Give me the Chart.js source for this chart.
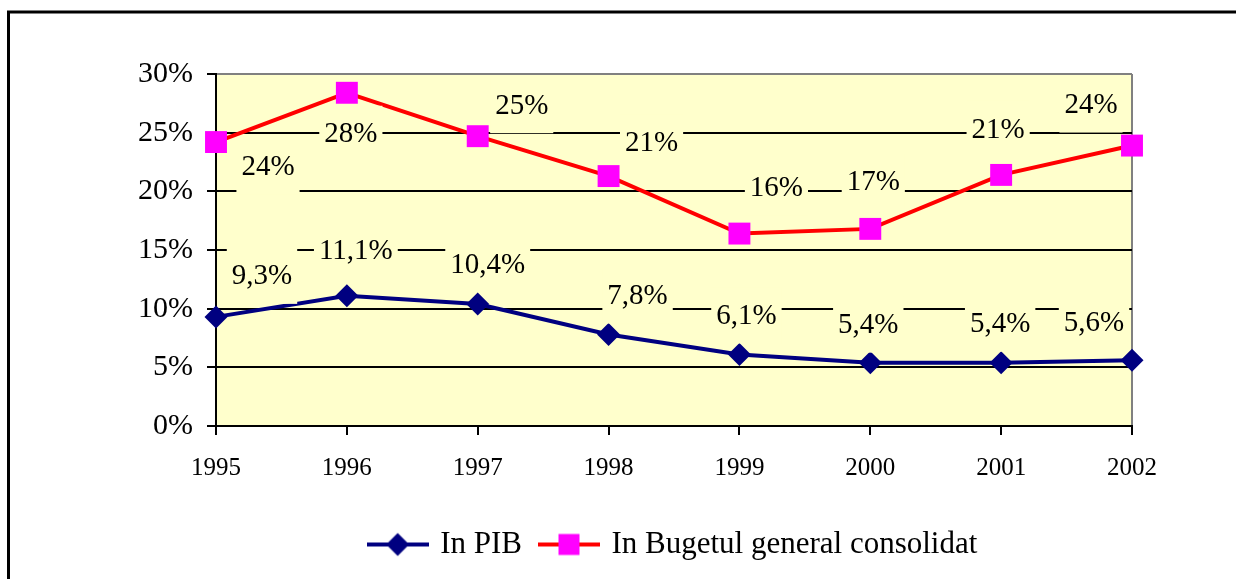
<!DOCTYPE html>
<html>
<head>
<meta charset="utf-8">
<script src="https://cdn.jsdelivr.net/npm/chart.js@4/dist/chart.umd.min.js"></script>
<style>
html,body{margin:0;padding:0;background:#fff;}
#wrap{width:1236px;height:579px;position:relative;}
</style>
</head>
<body>
<div id="wrap"><canvas id="c" width="1236" height="579"></canvas></div>
<script>
// ---- data ----
const years = ['1995', '1996', '1997', '1998', '1999', '2000', '2001', '2002'];
const pibValues = [9.3, 11.1, 10.4, 7.8, 6.1, 5.4, 5.4, 5.6];
const bugetValues = [24.2, 28.4, 24.7, 21.3, 16.4, 16.8, 21.4, 23.9];
const yTickValues = [0, 5, 10, 15, 20, 25, 30];
const seriesNames = ['In PIB', 'In Bugetul general consolidat'];

// ---- label placement (pixel offsets from each point) ----
const pibLabelOffsets = [[46,-41],[9,-45],[10,-40],[29,-39],[7,-39],[-2,-38],[-1,-39],[-38,-38]];
const bugetLabelOffsets = [[52,24],[4,41],[44,-31],[43,-34],[37,-46],[3,-47],[-3,-46],[-41,-41]];

const SERIF = "'Liberation Serif', 'Times New Roman', serif";
const PLOT_BG = '#FFFFCC';
const BLUE = '#000080';
const RED = '#FF0000';
const MAGENTA = '#FF00FF';

function fmtPib(v){ return v.toFixed(1).replace('.', ',') + '%'; }
function fmtBuget(v){ return Math.round(v) + '%'; }

function legendIcon(lineColor, markerColor, shape){
  const c = document.createElement('canvas');
  c.width = 62; c.height = 26;
  const g = c.getContext('2d');
  g.strokeStyle = lineColor; g.lineWidth = 4;
  g.beginPath(); g.moveTo(0, 13); g.lineTo(62, 13); g.stroke();
  g.fillStyle = markerColor;
  g.beginPath();
  if (shape === 'diamond'){
    g.moveTo(31 - 11.5, 13); g.lineTo(31, 1.5); g.lineTo(31 + 11.5, 13); g.lineTo(31, 24.5); g.closePath();
  } else {
    g.rect(31 - 10.5, 2.5, 21, 21);
  }
  g.fill();
  return c;
}
const icons = [legendIcon(BLUE, BLUE, 'diamond'), legendIcon(RED, MAGENTA, 'square')];

const bgPlugin = {
  id: 'bg',
  beforeDraw(chart){
    const {ctx, chartArea: a} = chart;
    ctx.save();
    ctx.fillStyle = '#fff';
    ctx.fillRect(0, 0, chart.width, chart.height);
    ctx.fillStyle = PLOT_BG;
    ctx.fillRect(a.left, a.top, a.right - a.left, a.bottom - a.top);
    ctx.restore();
  },
  afterDraw(chart){
    const ctx = chart.ctx;
    ctx.save();
    ctx.strokeStyle = '#000';
    ctx.lineWidth = 3;
    ctx.beginPath();
    ctx.moveTo(8.5, chart.height + 2);
    ctx.lineTo(8.5, 12);
    ctx.lineTo(chart.width + 2, 12);
    ctx.stroke();
    ctx.restore();
  }
};

const labelPlugin = {
  id: 'valueLabels',
  afterDatasetsDraw(chart){
    const ctx = chart.ctx;
    ctx.save();
    ctx.font = '29px ' + SERIF;
    ctx.textAlign = 'center';
    ctx.textBaseline = 'middle';
    const offs = [pibLabelOffsets, bugetLabelOffsets];
    const fmts = [fmtPib, fmtBuget];
    chart.data.datasets.forEach((ds, di) => {
      const meta = chart.getDatasetMeta(di);
      meta.data.forEach((pt, i) => {
        const txt = fmts[di](ds.data[i]);
        const cx = pt.x + offs[di][i][0];
        const cy = pt.y + offs[di][i][1];
        const w = ctx.measureText(txt).width;
        ctx.fillStyle = PLOT_BG;
        ctx.fillRect(cx - w / 2 - 5, cy - 28, w + 10, 56);
        ctx.fillStyle = '#000';
        ctx.fillText(txt, cx, cy + 1);
      });
    });
    ctx.restore();
  }
};

new Chart(document.getElementById('c'), {
  type: 'line',
  data: {
    labels: years,
    datasets: [
      {
        label: seriesNames[0],
        data: pibValues,
        borderColor: BLUE,
        borderWidth: 4,
        backgroundColor: BLUE,
        pointStyle: 'rectRot',
        pointRadius: 11.5,
        pointBackgroundColor: BLUE,
        pointBorderWidth: 0,
        tension: 0,
        clip: false
      },
      {
        label: seriesNames[1],
        data: bugetValues,
        borderColor: RED,
        borderWidth: 4,
        backgroundColor: MAGENTA,
        pointStyle: 'rect',
        pointRadius: 15.5,
        pointBackgroundColor: MAGENTA,
        pointBorderWidth: 0,
        tension: 0,
        clip: false
      }
    ]
  },
  options: {
    responsive: false,
    animation: false,
    devicePixelRatio: 1,
    layout: { padding: { left: 0, right: 104, top: 74, bottom: 9 } },
    plugins: {
      tooltip: { enabled: false },
      legend: {
        position: 'bottom',
        fullSize: false,
        labels: {
          font: { family: SERIF, size: 31 },
          color: '#000',
          usePointStyle: true,
          pointStyleWidth: 54,
          padding: 20,
          generateLabels(chart){
            return chart.data.datasets.map((ds, i) => ({
              text: ds.label,
              pointStyle: icons[i],
              fillStyle: ds.borderColor,
              strokeStyle: ds.borderColor,
              lineWidth: 0,
              hidden: false,
              datasetIndex: i,
              fontColor: '#000'
            }));
          }
        }
      }
    },
    scales: {
      x: {
        type: 'category',
        offset: false,
        afterFit(scale){ scale.height = 83; },
        grid: {
          color: (c) => (c.index === years.length - 1 ? '#808080' : 'rgba(0,0,0,0)'),
          lineWidth: 2,
          tickColor: '#000',
          tickWidth: 2,
          tickLength: 9
        },
        border: { display: true, color: '#000', width: 2 },
        ticks: {
          font: { family: SERIF, size: 25 },
          color: '#000',
          padding: 18,
          maxRotation: 0,
          autoSkip: false
        }
      },
      y: {
        min: 0,
        max: 30,
        afterBuildTicks(scale){ scale.ticks = yTickValues.map(v => ({ value: v })); },
        afterFit(scale){ scale.width = 216; },
        grid: {
          color: (c) => (c.tick && c.tick.value === 30 ? '#808080' : '#000'),
          lineWidth: 2,
          tickColor: '#000',
          tickWidth: 2,
          tickLength: 9
        },
        border: { display: true, color: '#000', width: 2 },
        ticks: {
          font: { family: SERIF, size: 30 },
          color: '#000',
          padding: 14,
          callback: (v) => v + '%'
        }
      }
    }
  },
  plugins: [bgPlugin, labelPlugin]
});
</script>
</body>
</html>
